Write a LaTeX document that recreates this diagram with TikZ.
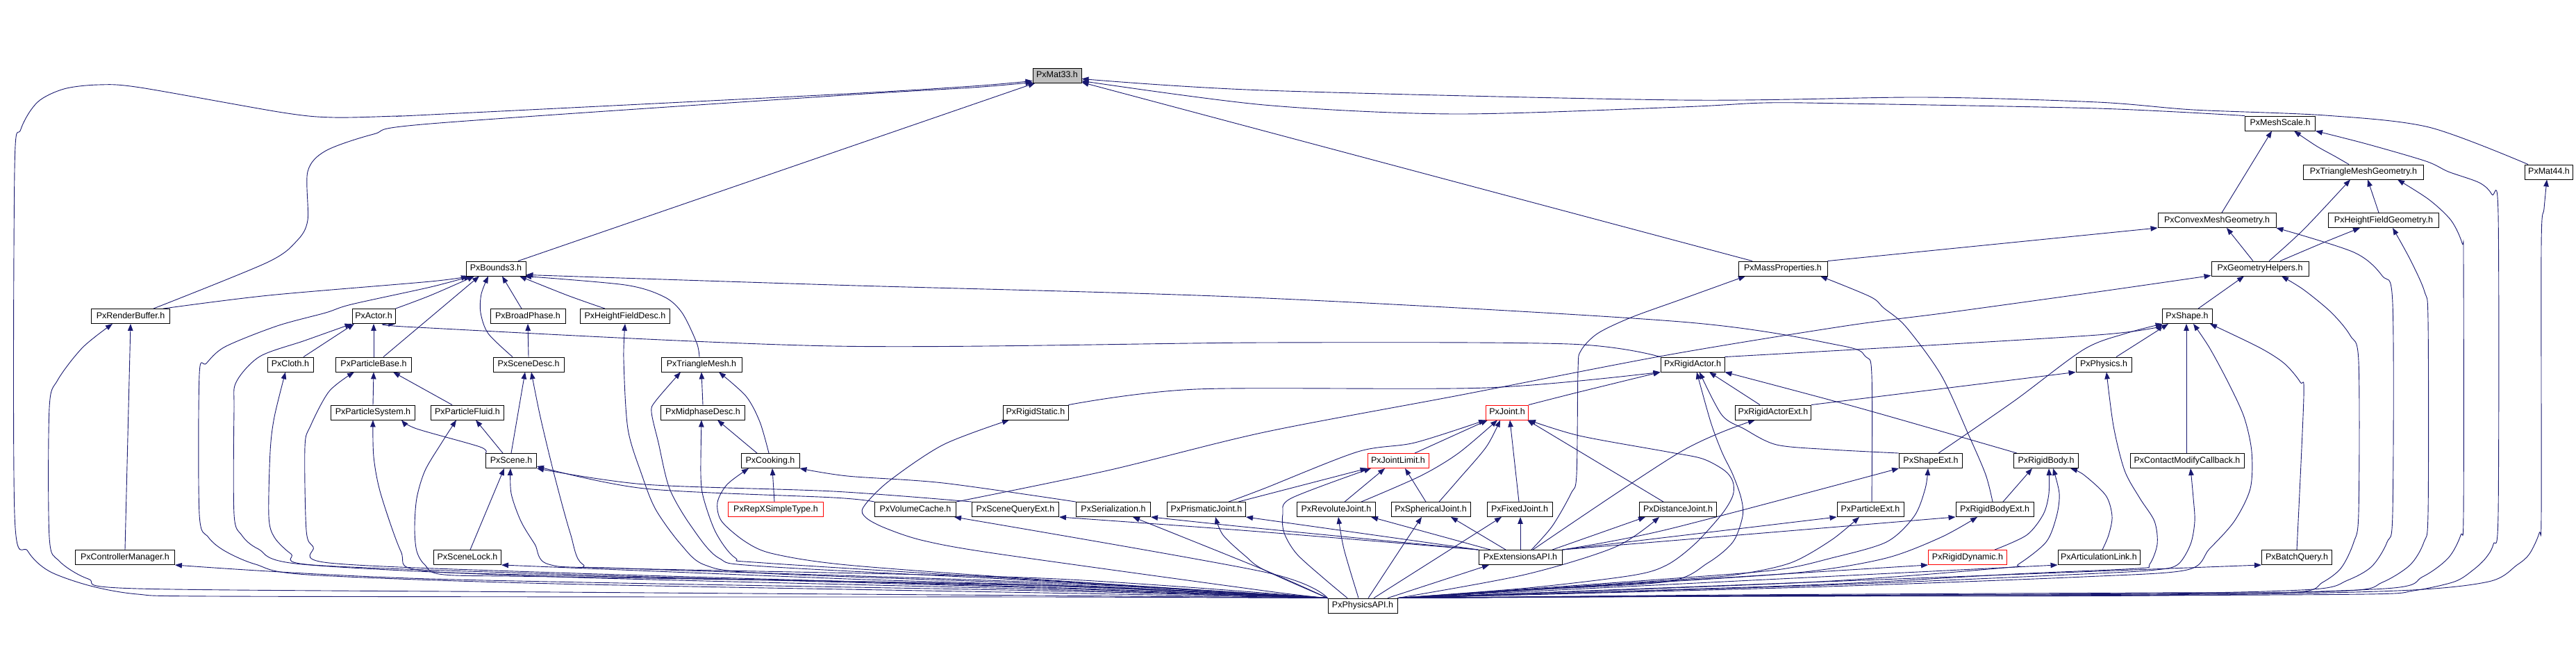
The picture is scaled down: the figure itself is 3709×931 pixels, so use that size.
\documentclass[tikz,border=0pt]{standalone}
\usepackage{fontspec}
\setmainfont{Liberation Sans}
\usetikzlibrary{arrows.meta}
\definecolor{edgec}{RGB}{25,25,112}
\definecolor{rootfill}{RGB}{191,191,191}
\pgfdeclarelayer{bg}
\pgfsetlayers{bg,main}
\begin{document}
\begin{tikzpicture}[x=1pt,y=-1pt,
  nd/.style={draw=black,line width=0.9pt,fill=white,rectangle,inner xsep=1pt,inner ysep=0pt,minimum height=21pt,text height=9.4pt,text depth=2.7pt,font=\fontsize{12.5}{14}\selectfont},
  rd/.style={nd,draw=red},
  e/.style={draw=edgec,line width=0.9pt,-{Triangle[length=10pt,width=7.5pt]}}]
\useasboundingbox (0,0) rectangle (3709,931);
% ---------- nodes ----------
\node[nd,fill=rootfill,minimum width=70pt] (M33) at (1522,108.5) {PxMat33.h};
\node[nd,minimum width=101pt] (MS) at (3283,177.5) {PxMeshScale.h};
\node[nd,minimum width=173pt] (TMG) at (3403,247.5) {PxTriangleMeshGeometry.h};
\node[nd,minimum width=69pt] (M44) at (3670,247.5) {PxMat44.h};
\node[nd,minimum width=170pt] (CMG) at (3192,317) {PxConvexMeshGeometry.h};
\node[nd,minimum width=159pt] (HFG) at (3432,317) {PxHeightFieldGeometry.h};
\node[nd,minimum width=86pt] (B3) at (714,386.5) {PxBounds3.h};
\node[nd,minimum width=128pt] (MP) at (2567,386.5) {PxMassProperties.h};
\node[nd,minimum width=140pt] (GH) at (3254,386.5) {PxGeometryHelpers.h};
\node[nd,minimum width=113pt] (RB) at (188,455) {PxRenderBuffer.h};
\node[nd,minimum width=62pt] (AC) at (538,455) {PxActor.h};
\node[nd,minimum width=108pt] (BP) at (760,455) {PxBroadPhase.h};
\node[nd,minimum width=129pt] (HFD) at (900,455) {PxHeightFieldDesc.h};
\node[nd,minimum width=72pt] (SH) at (3149,455) {PxShape.h};
\node[nd,minimum width=66pt] (CL) at (418,524.5) {PxCloth.h};
\node[nd,minimum width=109pt] (PB) at (538,524.5) {PxParticleBase.h};
\node[nd,minimum width=102pt] (SD) at (761,524.5) {PxSceneDesc.h};
\node[nd,minimum width=116pt] (TM) at (1010,524.5) {PxTriangleMesh.h};
\node[nd,minimum width=92pt] (RA) at (2437,524.5) {PxRigidActor.h};
\node[nd,minimum width=80pt] (PH) at (3029,524.5) {PxPhysics.h};
\node[nd,minimum width=121pt] (PS) at (537,593.5) {PxParticleSystem.h};
\node[nd,minimum width=105pt] (PF) at (673,593.5) {PxParticleFluid.h};
\node[nd,minimum width=121pt] (MD) at (1012,593.5) {PxMidphaseDesc.h};
\node[nd,minimum width=94pt] (RS) at (1491,593.5) {PxRigidStatic.h};
\node[rd,minimum width=61pt] (JT) at (2170,593.5) {PxJoint.h};
\node[nd,minimum width=109pt] (RAE) at (2553,593.5) {PxRigidActorExt.h};
\node[nd,minimum width=73pt] (SC) at (736,663) {PxScene.h};
\node[nd,minimum width=84pt] (CK) at (1109,663) {PxCooking.h};
\node[rd,minimum width=88pt] (JL) at (2013,663) {PxJointLimit.h};
\node[nd,minimum width=91pt] (SE) at (2780,663) {PxShapeExt.h};
\node[nd,minimum width=93pt] (RBo) at (2946,663) {PxRigidBody.h};
\node[nd,minimum width=164pt] (CMC) at (3149,663) {PxContactModifyCallback.h};
\node[rd,minimum width=137pt] (RX) at (1117,733) {PxRepXSimpleType.h};
\node[nd,minimum width=117pt] (VC) at (1318,733) {PxVolumeCache.h};
\node[nd,minimum width=125pt] (SQ) at (1462,733) {PxSceneQueryExt.h};
\node[nd,minimum width=107pt] (SER) at (1603,733) {PxSerialization.h};
\node[nd,minimum width=113pt] (PJ) at (1737,733) {PxPrismaticJoint.h};
\node[nd,minimum width=113pt] (RJ) at (1924,733) {PxRevoluteJoint.h};
\node[nd,minimum width=114pt] (SJ) at (2060,733) {PxSphericalJoint.h};
\node[nd,minimum width=94pt] (FJ) at (2188,733) {PxFixedJoint.h};
\node[nd,minimum width=111pt] (DJ) at (2416,733) {PxDistanceJoint.h};
\node[nd,minimum width=96pt] (PE) at (2693,733) {PxParticleExt.h};
\node[nd,minimum width=112pt] (RBE) at (2872,733) {PxRigidBodyExt.h};
\node[nd,minimum width=143pt] (CM) at (180,802) {PxControllerManager.h};
\node[nd,minimum width=97pt] (SL) at (673,802) {PxSceneLock.h};
\node[nd,minimum width=120pt] (EX) at (2189,802) {PxExtensionsAPI.h};
\node[rd,minimum width=113pt] (RD) at (2833,802) {PxRigidDynamic.h};
\node[nd,minimum width=118pt] (AL) at (3022,802) {PxArticulationLink.h};
\node[nd,minimum width=101pt] (BQ) at (3307,802) {PxBatchQuery.h};
\node[nd,minimum width=100pt] (API) at (1962,871.5) {PxPhysicsAPI.h};
% ---------- edges ----------
\begin{pgfonlayer}{bg}
\fill[white] (0,0) rectangle (3709,931);
% into PxMat33
\draw[e] plot[smooth] coordinates {(API.north west) (1500,859) (1000,859) (308,858) (198,855) (130,843) (71,822) (40,793) (21,740) (21,245) (30,186) (54,147) (92,128) (142,122) (202,126) (407,162) (480,169) (571,167) (620,165) (1200,136) (1400,124) ([yshift=3pt]M33.south west)};
\draw[e] plot[smooth] coordinates {([xshift=33pt]RB.north) (384,378) (427,347) (443,317) (443,247) (469,217) (538,193) (620,178) (1200,138) (1400,126) ([yshift=1pt]M33.south west)};
\draw[e] ([xshift=32pt]B3.north) -- ([xshift=4pt]M33.south west);
\draw[e] ([xshift=-44pt]MP.north) -- ([yshift=1pt]M33.south east);
\draw[e] plot[smooth] coordinates {(MS.north west) (3020,156) (2657,149) (2540,148) (2420,154) (2093,164) (1820,151) ([yshift=3pt]M33.south east)};
\draw[e] plot[smooth] coordinates {([xshift=-30pt]M44.north) (3497,183) (3348,166) (3158,158) (3020,147) (2768,140) (2420,144) (1820,130) ([yshift=6pt]M33.south east)};
% into PxMeshScale
\draw[e] ([xshift=7pt]CMG.north) -- ([xshift=-12pt]MS.south);
\draw[e] plot[smooth] coordinates {([xshift=-21pt]TMG.north) (3362,225) (3335,210) ([xshift=20pt]MS.south)};
\draw[e] plot[smooth] coordinates {(API.north east) (2400,858) (3000,857) (3407,855) (3475,850) (3534,837) (3561,820) (3579,803) (3590,783) (3597,737) (3597,310) (3588,280) (3570,263) (3525,247) (3493,232) (3407,207) (MS.south east)};
% into PxMat44
\draw[e] plot[smooth] coordinates {(API.north east) (2500,858) (3100,857) (3452,850) (3583,837) (3624,813) (3642,797) (3656,767) (3659,737) (3659,353) (3663,300) ([xshift=-3pt]M44.south)};
% into PxTriangleMeshGeometry
\draw[e] plot[smooth] coordinates {(API.north east) (2500,858) (3100,856) (3434,847) (3488,830) (3525,803) (3543,770) (3547,737) (3547,380) (3545,350) (3529,317) (3497,287) ([xshift=49pt]TMG.south)};
\draw[e] plot[smooth] coordinates {([xshift=13pt]GH.north) (3317,330) ([xshift=-19pt]TMG.south)};
\draw[e] ([xshift=-7pt]HFG.north) -- ([xshift=6pt]TMG.south);
% into PxHeightFieldGeometry
\draw[e] plot[smooth] coordinates {(API.north east) (2500,857) (3100,855) (3380,850) (3430,838) (3470,813) (3490,780) (3496,737) (3496,463) (3491,420) (3470,373) ([xshift=13pt]HFG.south)};
\draw[e] plot[smooth] coordinates {([xshift=29pt]GH.north) (3348,348) ([xshift=-34pt]HFG.south)};
% into PxConvexMeshGeometry
\draw[e] plot[smooth] coordinates {(API.north east) (2500,857) (3100,854) (3330,848) (3380,835) (3415,815) (3437,780) (3445,737) (3445,437) (3430,397) (3389,363) (CMG.south east)};
\draw[e] (MP.north east) -- (CMG.south west);
\draw[e] ([xshift=-10pt]GH.north) -- ([xshift=14pt]CMG.south);
% into PxGeometryHelpers
\draw[e] plot[smooth] coordinates {(API.north east) (2500,856) (3100,853) (3307,852) (3344,838) (3371,817) (3389,780) (3396,737) (3396,520) (3384,483) (3357,450) (3317,417) ([xshift=31pt]GH.south)};
\draw[e] ([xshift=16pt]SH.north) -- ([xshift=-23pt]GH.south);
\draw[e] plot[smooth] coordinates {(VC.north east) (1595,677) (1820,622) (2100,569) (2400,511) (2657,469) (2803,450) (3020,420) ([yshift=1pt]GH.south west)};
% into PxBounds3
\draw[e] plot[smooth] coordinates {([xshift=47pt]RB.north) (387,425) (620,405) ([xshift=-40pt]B3.south)};
\draw[e] plot[smooth] coordinates {(API.north west) (1500,853) (800,840) (443,827) (368,812) (324,793) (300,773) (287,740) (287,539) (297,523) (324,499) (399,469) (469,450) (506,438) (620,413) ([xshift=-36pt]B3.south)};
\draw[e] plot[smooth] coordinates {(AC.north east) (620,425) ([xshift=-31pt]B3.south)};
\draw[e] ([xshift=14pt]PB.north) -- ([xshift=-24pt]B3.south);
\draw[e] plot[smooth] coordinates {([xshift=-23pt]SD.north) (703,480) (692,450) (693,423) ([xshift=-11pt]B3.south)};
\draw[e] ([xshift=-9pt]BP.north) -- ([xshift=9pt]B3.south);
\draw[e] plot[smooth] coordinates {([xshift=-29pt]HFD.north) (817,425) ([xshift=34pt]B3.south)};
\draw[e] plot[smooth] coordinates {([xshift=-3pt]TM.north) (1003,493) (982,450) (956,427) (900,410) ([xshift=41pt]B3.south)};
\draw[e] plot[smooth] coordinates {([xshift=2pt]PE.north) (2695,540) (2686,513) (2649,497) (2420,463) (1800,428) (1200,410) ([yshift=2pt]B3.south east)};
% into PxRenderBuffer / PxControllerManager
\draw[e] plot[smooth] coordinates {(API.north west) (1500,857) (800,852) (198,847) (127,833) (85,807) (71,773) (71,587) (83,547) (119,500) ([xshift=-26pt]RB.south)};
\draw[e] (CM.north) -- (RB.south);
\draw[e] plot[smooth] coordinates {(API.north west) (1500,850) (620,833) (CM.south east)};
% into PxActor
\draw[e] ([xshift=19pt]CL.north) -- ([xshift=-28pt]AC.south);
\draw[e] (PB.north) -- (AC.south);
\draw[e] plot[smooth] coordinates {(RA.north west) (2259,495) (1820,493) (1200,498) (600,471) (AC.south east)};
\draw[e] plot[smooth] coordinates {(API.north west) (1500,848) (800,830) (435,812) (372,790) (348,770) (337,740) (337,590) (340,550) (374,513) (439,490) (AC.south west)};
% into PxCloth
\draw[e] plot[smooth] coordinates {(API.north west) (1500,846) (800,826) (451,813) (419,797) (395,773) (387,743) (389,650) (395,600) ([xshift=-7pt]CL.south)};
% into PxParticleBase
\draw[e] plot[smooth] coordinates {(API.north west) (1500,845) (800,824) (474,810) (451,787) (441,763) (439,643) (447,613) (474,563) ([xshift=-28pt]PB.south)};
\draw[e] (PS.north) -- (PB.south);
\draw[e] ([xshift=-22pt]PF.north) -- ([xshift=28pt]PB.south);
% into PxParticleSystem
\draw[e] plot[smooth] coordinates {(API.north west) (1500,843) (800,828) (601,820) (577,793) (548,710) (538,657) (PS.south)};
\draw[e] plot[smooth] coordinates {(SC.north west) (691,643) (600,617) ([xshift=41pt]PS.south)};
% into PxParticleFluid
\draw[e] ([xshift=-12pt]SC.north) -- ([xshift=12pt]PF.south);
\draw[e] plot[smooth] coordinates {(API.north west) (1500,842) (800,830) (640,827) (612,813) (600,793) (597,760) (600,717) (612,677) (636,637) ([xshift=-16pt]PF.south)};
% into PxBroadPhase / PxHeightFieldDesc / PxSceneDesc
\draw[e] (SD.north) -- (BP.south);
\draw[e] plot[smooth] coordinates {(API.north west) (1500,840) (1100,825) (1015,813) (980,783) (944,733) (924,683) (904,617) (898,517) (HFD.south)};
\draw[e] (SC.north) -- ([xshift=-5pt]SD.south);
\draw[e] plot[smooth] coordinates {(API.north west) (1500,838) (900,818) (839,812) (821,767) (798,683) (778,600) ([xshift=4pt]SD.south)};
% into PxTriangleMesh / PxMidphaseDesc / PxCooking
\draw[e] (MD.north) -- (TM.south);
\draw[e] plot[smooth] coordinates {([xshift=-2pt]CK.north) (1094,607) (1074,570) ([xshift=25pt]TM.south)};
\draw[e] plot[smooth] coordinates {(API.north west) (1500,836) (1100,815) (1035,803) (995,757) (964,703) (948,637) (938,593) (944,577) ([xshift=-30pt]TM.south)};
\draw[e] ([xshift=-19pt]CK.north) -- ([xshift=21pt]MD.south);
\draw[e] plot[smooth] coordinates {(API.north west) (1500,835) (1100,810) (1059,803) (1031,767) (1013,717) (1009,683) ([xshift=-2pt]MD.south)};
\draw[e] ([xshift=-2pt]RX.north) -- ([xshift=3pt]CK.south);
\draw[e] plot[smooth] coordinates {(API.north west) (1500,834) (1220,813) (1114,797) (1074,780) (1039,750) (1033,723) (1047,697) ([xshift=-31pt]CK.south)};
\draw[e] plot[smooth] coordinates {(SER.north west) (1358,695) (1220,685) (CK.south east)};
% into PxScene / PxSceneLock
\draw[e] ([xshift=4pt]SL.north) -- ([xshift=-10pt]SC.south);
\draw[e] plot[smooth] coordinates {(API.north west) (1500,832) (900,818) (790,812) (770,783) (750,750) (736,710) ([xshift=-1pt]SC.south)};
\draw[e] plot[smooth] coordinates {(SQ.north west) (1200,707) (928,697) (SC.south east)};
\draw[e] plot[smooth] coordinates {(VC.north west) (1200,716) (928,703) ([yshift=3pt]SC.south east)};
\draw[e] plot[smooth] coordinates {(API.north west) (1500,842) (1220,833) (SL.south east)};
% into PxRigidStatic / PxVolumeCache / PxSceneQueryExt / PxSerialization
\draw[e] plot[smooth] coordinates {(API.north west) (1820,850) (1437,797) (1330,778) (1275,760) (1247,745) (1243,730) (1279,693) (1358,640) ([xshift=-38pt]RS.south)};
\draw[e] plot[smooth] coordinates {(RS.north east) (1723,560) (2140,558) (RA.south west)};
\draw[e] plot[smooth] coordinates {(API.north west) (1820,823) ([xshift=56pt]VC.south)};
\draw[e] plot[smooth] coordinates {(EX.north west) (1800,764) (SQ.south east)};
\draw[e] plot[smooth] coordinates {(EX.north west) (1800,759) (SER.south east)};
\draw[e] (EX.north west) -- (PJ.south east);
\draw[e] plot[smooth] coordinates {(API.north west) (1820,820) ([xshift=28pt]SER.south)};
% joints
\draw[e] plot[smooth] coordinates {([xshift=32pt]PJ.north) (1820,703) (1955,650) (2037,637) (JT.south west)};
\draw[e] ([xshift=46pt]PJ.north) -- (JL.south west);
\draw[e] plot[smooth] coordinates {(API.north west) (1820,820) (1793,800) (1761,770) ([xshift=13pt]PJ.south)};
\draw[e] ([xshift=24pt]JL.north) -- ([xshift=3pt]JT.south west);
\draw[e] plot[smooth] coordinates {([xshift=36pt]RJ.north) (2045,685) (2100,652) ([xshift=-14pt]JT.south)};
\draw[e] ([xshift=12pt]RJ.north) -- ([xshift=-19pt]JL.south);
\draw[e] plot[smooth] coordinates {([xshift=-6pt]API.north) (1935,790) ([xshift=3pt]RJ.south)};
\draw[e] plot[smooth] coordinates {([xshift=12pt]SJ.north) (2100,690) (2140,643) ([xshift=-10pt]JT.south)};
\draw[e] ([xshift=-7pt]SJ.north) -- ([xshift=10pt]JL.south);
\draw[e] plot[smooth] coordinates {([xshift=8pt]API.north) (2021,783) ([xshift=-13pt]SJ.south)};
\draw[e] ([xshift=-1pt]FJ.north) -- ([xshift=4pt]JT.south);
\draw[e] ([xshift=16pt]API.north) -- ([xshift=-26pt]FJ.south);
\draw[e] ([xshift=-21pt]DJ.north) -- ([xshift=29pt]JT.south);
\draw[e] plot[smooth] coordinates {(API.north east) (2195,827) (2326,787) ([xshift=-27pt]DJ.south)};
\draw[e] plot[smooth] coordinates {([xshift=-22pt]API.north) (1907,833) (1867,797) (1849,767) (1847,740) (1859,717) ([xshift=-39pt]JL.south)};
\draw[e] plot[smooth] coordinates {(API.north east) (2200,846) (2350,828) (2400,813) (2440,783) (2479,740) (2495,713) (2495,693) (2483,677) (2451,660) (2400,650) (2274,627) (JT.south east)};
% PxExtensionsAPI
\draw[e] ([xshift=36pt]API.north) -- ([xshift=-45pt]EX.south);
\draw[e] ([xshift=-43pt]EX.north) -- ([xshift=50pt]RJ.south);
\draw[e] ([xshift=-21pt]EX.north) -- ([xshift=29pt]SJ.south);
\draw[e] (EX.north) -- ([xshift=1pt]FJ.south);
\draw[e] ([xshift=46pt]EX.north) -- ([xshift=-47pt]DJ.south);
\draw[e] (EX.north east) -- (PE.south west);
\draw[e] (EX.north east) -- (RBE.south west);
\draw[e] plot[smooth] coordinates {(EX.north east) (2400,762) (SE.south west)};
\draw[e] plot[smooth] coordinates {([xshift=18pt]EX.north) (2420,650) ([xshift=-26pt]RAE.south)};
\draw[e] plot[smooth] coordinates {([xshift=16pt]EX.north) (2235,757) (2262,710) (2270,683) (2272,533) (2276,505) (2300,480) (2348,457) (2420,431) ([xshift=-54pt]MP.south)};
% into PxRigidActor
\draw[e] plot[smooth] coordinates {(JT.north east) (2270,565) (RA.south west)};
\draw[e] ([xshift=-19pt]RAE.north) -- ([xshift=24pt]RA.south);
\draw[e] plot[smooth] coordinates {([xshift=-42pt]RBo.north) (2677,587) (RA.south east)};
\draw[e] plot[smooth] coordinates {(API.north east) (2200,849) (2400,837) (2459,810) (2495,780) (2509,743) (2507,717) (2495,683) (2479,650) (2463,607) ([xshift=6pt]RA.south)};
\draw[e] plot[smooth] coordinates {(SE.north west) (2637,647) (2558,640) (2511,617) (2479,597) ([xshift=10pt]RA.south)};
% into PxShape / PxPhysics
\draw[e] plot[smooth] coordinates {(RA.north east) (3020,482) (SH.south west)};
\draw[e] (RAE.north east) -- (PH.south west);
\draw[e] plot[smooth] coordinates {(API.north east) (2600,842) (2900,826) (3077,818) (3095,812) (3106,783) (3102,750) (3081,717) (3059,677) (3043,613) ([xshift=4pt]PH.south)};
\draw[e] ([xshift=18pt]PH.north) -- ([xshift=-27pt]SH.south);
\draw[e] plot[smooth] coordinates {([xshift=11pt]SE.north) (2900,577) (3000,503) (3060,480) ([xshift=1pt]SH.south west)};
\draw[e] ([xshift=-1pt]CMC.north) -- ([xshift=-1pt]SH.south);
\draw[e] plot[smooth] coordinates {(API.north east) (2600,845) (3000,830) (3149,820) (3181,790) (3217,750) (3240,703) (3242,650) (3231,600) (3208,550) (3181,500) ([xshift=9pt]SH.south)};
\draw[e] plot[smooth] coordinates {(BQ.north) (3317,570) (3312,550) (3289,523) (3253,500) ([xshift=33pt]SH.south)};
\draw[e] plot[smooth] coordinates {(API.north east) (2600,843) (3000,826) (3104,820) (3136,812) (3154,783) (3160,750) (3158,717) ([xshift=5pt]CMC.south)};
\draw[e] (API.north east) -- (BQ.south west);
% into PxRigidBody
\draw[e] plot[smooth] coordinates {(API.north east) (2600,838) (2886,817) (2906,812) (2946,780) (2961,743) (2965,710) ([xshift=10pt]RBo.south)};
\draw[e] ([xshift=12pt]RBE.north) -- ([xshift=-20pt]RBo.south);
\draw[e] plot[smooth] coordinates {([xshift=39pt]RD.north) (2918,770) (2942,740) (2950,710) ([xshift=4pt]RBo.south)};
\draw[e] plot[smooth] coordinates {([xshift=5pt]AL.north) (3036,770) (3041,743) (3032,713) (3000,683) ([xshift=35pt]RBo.south)};
% PxRigidBodyExt / PxParticleExt / PxShapeExt etc.
\draw[e] plot[smooth] coordinates {(API.north east) (2400,837) (2598,823) (2716,803) (2795,773) ([xshift=-25pt]RBE.south)};
\draw[e] plot[smooth] coordinates {([xshift=-3pt]RBE.north) (2859,683) (2835,627) (2795,540) (2744,470) (2712,443) (2693,427) ([xshift=54pt]MP.south)};
\draw[e] plot[smooth] coordinates {(API.north east) (2400,835) (2499,827) (2578,810) (2637,777) ([xshift=-16pt]PE.south)};
\draw[e] plot[smooth] coordinates {(API.north east) (2400,833) (2558,820) (2637,803) (2716,780) (2756,743) (2772,703) ([xshift=-4pt]SE.south)};
\draw[e] (API.north east) -- (RD.south west);
\draw[e] (API.north east) -- (AL.south west);
\end{pgfonlayer}
\end{tikzpicture}
\end{document}
